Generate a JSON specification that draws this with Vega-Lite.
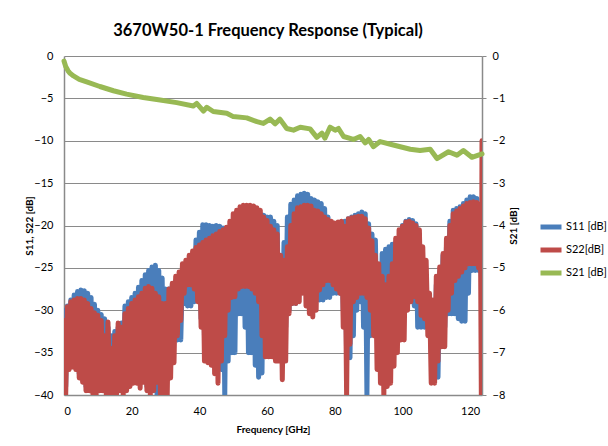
{
  "$schema": "https://vega.github.io/schema/vega-lite/v6.json",
  "width": 418,
  "height": 339,
  "autosize": {"type": "none"},
  "padding": {"left": 64, "top": 56, "right": 126, "bottom": 51},
  "background": "white",
  "config": {
    "font": "Lato",
    "view": {"stroke": null},
    "axis": {"labelFont": "Lato", "titleFont": "Lato", "labelColor": "#000", "titleColor": "#000", "domainColor": "#8a8a8a", "gridColor": "#8a8a8a", "tickColor": "#8a8a8a"}
  },
  "title": {"text": "3670W50-1 Frequency Response (Typical)", "font": "Lato", "fontSize": 16.5, "fontWeight": "bold", "anchor": "middle", "offset": 11, "dx": -5, "color": "#000"},
  "datasets": {
    "refl": [
      {"f":0,"S11":-30,"S22":-31.2},{"f":0.5,"S11":-39,"S22":-40},{"f":1,"S11":-29.5,"S22":-29.6},{"f":1.5,"S11":-36,"S22":-37},
      {"f":2,"S11":-28.8,"S22":-29},{"f":2.5,"S11":-36,"S22":-36.7},{"f":3,"S11":-28.2,"S22":-28.8},{"f":3.5,"S11":-36.5,"S22":-37},
      {"f":4,"S11":-27.8,"S22":-28.6},{"f":4.5,"S11":-37.5,"S22":-38},{"f":5,"S11":-27.6,"S22":-28.6},{"f":5.5,"S11":-38,"S22":-38.5},
      {"f":6,"S11":-27.7,"S22":-28.8},{"f":6.5,"S11":-39,"S22":-39.5},{"f":7,"S11":-28,"S22":-29.2},{"f":7.5,"S11":-39,"S22":-39.5},
      {"f":8,"S11":-28.5,"S22":-29.8},{"f":8.5,"S11":-39,"S22":-39.8},{"f":9,"S11":-29.3,"S22":-30.3},{"f":9.5,"S11":-39.5,"S22":-40},
      {"f":10,"S11":-30,"S22":-30.6},{"f":10.5,"S11":-39,"S22":-39.5},{"f":11,"S11":-30.5,"S22":-31.2},{"f":11.5,"S11":-39,"S22":-39.5},
      {"f":12,"S11":-31,"S22":-33},{"f":12.5,"S11":-39.5,"S22":-40},{"f":13,"S11":-32,"S22":-31.4},{"f":13.5,"S11":-39,"S22":-39.8},
      {"f":14,"S11":-33,"S22":-34.5},{"f":14.5,"S11":-39.5,"S22":-40},{"f":15,"S11":-32.5,"S22":-33},{"f":15.5,"S11":-39.5,"S22":-40},
      {"f":16,"S11":-32,"S22":-31.5},{"f":16.5,"S11":-39,"S22":-39.5},{"f":17,"S11":-31.5,"S22":-32},{"f":17.5,"S11":-39.5,"S22":-40},
      {"f":18,"S11":-29.5,"S22":-30.4},{"f":18.5,"S11":-39,"S22":-39.5},{"f":19,"S11":-29,"S22":-29.8},{"f":19.5,"S11":-38.5,"S22":-39},
      {"f":20,"S11":-28.5,"S22":-29.2},{"f":20.5,"S11":-38,"S22":-38.6},{"f":21,"S11":-28,"S22":-28.8},{"f":21.5,"S11":-38,"S22":-38.6},
      {"f":22,"S11":-27.3,"S22":-28.4},{"f":22.5,"S11":-38.5,"S22":-39.2},{"f":23,"S11":-26.5,"S22":-28},{"f":23.5,"S11":-38,"S22":-38.5},
      {"f":24,"S11":-25.8,"S22":-27.4},{"f":24.5,"S11":-39,"S22":-39.5},{"f":25,"S11":-25.3,"S22":-27.2},{"f":25.5,"S11":-39.5,"S22":-40},
      {"f":26,"S11":-24.9,"S22":-27.4},{"f":26.5,"S11":-39,"S22":-39.5},{"f":27,"S11":-24.7,"S22":-28},{"f":27.5,"S11":-40,"S22":-38.5},
      {"f":28,"S11":-25.3,"S22":-28.4},{"f":28.5,"S11":-39,"S22":-40},{"f":29,"S11":-26.2,"S22":-29.2},{"f":29.5,"S11":-39,"S22":-40},
      {"f":30,"S11":-27.5,"S22":-29.2},{"f":30.5,"S11":-38,"S22":-40},{"f":31,"S11":-27.5,"S22":-27.5},{"f":31.5,"S11":-36,"S22":-38},
      {"f":32,"S11":-27,"S22":-26.8},{"f":32.5,"S11":-33.5,"S22":-36.2},{"f":33,"S11":-26.5,"S22":-26},{"f":33.5,"S11":-33.5,"S22":-33},
      {"f":34,"S11":-26.5,"S22":-25.5},{"f":34.5,"S11":-33.5,"S22":-31.2},{"f":35,"S11":-25.3,"S22":-24.5},{"f":35.5,"S11":-29.2,"S22":-28},
      {"f":36,"S11":-24.8,"S22":-24.1},{"f":36.5,"S11":-29.5,"S22":-27},{"f":37,"S11":-24.3,"S22":-23.5},{"f":37.5,"S11":-29.5,"S22":-27},
      {"f":38,"S11":-23.5,"S22":-23},{"f":38.5,"S11":-29,"S22":-27.5},{"f":39,"S11":-21.7,"S22":-22.6},{"f":39.5,"S11":-28.5,"S22":-29},
      {"f":40,"S11":-20.8,"S22":-22.3},{"f":40.5,"S11":-31,"S22":-32},{"f":41,"S11":-19.9,"S22":-22},{"f":41.5,"S11":-33,"S22":-36},
      {"f":42,"S11":-19.9,"S22":-21.7},{"f":42.5,"S11":-35,"S22":-36.2},{"f":43,"S11":-20,"S22":-21.5},{"f":43.5,"S11":-35,"S22":-36.5},
      {"f":44,"S11":-20.1,"S22":-21.2},{"f":44.5,"S11":-35,"S22":-37.5},{"f":45,"S11":-20,"S22":-21},{"f":45.5,"S11":-36,"S22":-38.6},
      {"f":46,"S11":-20.1,"S22":-20.7},{"f":46.5,"S11":-37,"S22":-36},{"f":47,"S11":-20.3,"S22":-20.5},{"f":47.5,"S11":-40,"S22":-33},
      {"f":48,"S11":-20.6,"S22":-20.2},{"f":48.5,"S11":-36,"S22":-30},{"f":49,"S11":-20.2,"S22":-19.5},{"f":49.5,"S11":-35,"S22":-28.5},
      {"f":50,"S11":-19.5,"S22":-18.6},{"f":50.5,"S11":-35,"S22":-28.4},{"f":51,"S11":-19,"S22":-18.2},{"f":51.5,"S11":-30.4,"S22":-27.5},
      {"f":52,"S11":-18.5,"S22":-17.8},{"f":52.5,"S11":-30.4,"S22":-27.2},{"f":53,"S11":-18.3,"S22":-17.6},{"f":53.5,"S11":-32,"S22":-27.2},
      {"f":54,"S11":-18.3,"S22":-17.6},{"f":54.5,"S11":-35,"S22":-27.2},{"f":55,"S11":-18.3,"S22":-17.6},{"f":55.5,"S11":-35,"S22":-27.5},
      {"f":56,"S11":-18.5,"S22":-17.7},{"f":56.5,"S11":-36.5,"S22":-28},{"f":57,"S11":-18.6,"S22":-17.9},{"f":57.5,"S11":-37.9,"S22":-29},
      {"f":58,"S11":-18.6,"S22":-18.2},{"f":58.5,"S11":-37.4,"S22":-33},{"f":59,"S11":-18.8,"S22":-19},{"f":59.5,"S11":-35,"S22":-35.5},
      {"f":60,"S11":-19,"S22":-19.4},{"f":60.5,"S11":-34,"S22":-35.5},{"f":61,"S11":-19,"S22":-20.1},{"f":61.5,"S11":-34,"S22":-35.5},
      {"f":62,"S11":-19.5,"S22":-20.5},{"f":62.5,"S11":-34,"S22":-36},{"f":63,"S11":-20,"S22":-21},{"f":63.5,"S11":-33,"S22":-36},
      {"f":64,"S11":-24.4,"S22":-23.5},{"f":64.5,"S11":-33,"S22":-38.2},{"f":65,"S11":-22,"S22":-24.1},{"f":65.5,"S11":-32,"S22":-36},
      {"f":66,"S11":-19,"S22":-22.5},{"f":66.5,"S11":-30,"S22":-30.4},{"f":67,"S11":-17.5,"S22":-20},{"f":67.5,"S11":-29.2,"S22":-29.2},
      {"f":68,"S11":-17,"S22":-18.6},{"f":68.5,"S11":-29.2,"S22":-29.2},{"f":69,"S11":-16.5,"S22":-17.9},{"f":69.5,"S11":-27,"S22":-29},
      {"f":70,"S11":-16.3,"S22":-17.8},{"f":70.5,"S11":-26.5,"S22":-28},{"f":71,"S11":-16.2,"S22":-17.6},{"f":71.5,"S11":-26.5,"S22":-29.5},
      {"f":72,"S11":-16.3,"S22":-17.6},{"f":72.5,"S11":-27,"S22":-30.4},{"f":73,"S11":-16.8,"S22":-17.7},{"f":73.5,"S11":-28,"S22":-30.8},
      {"f":74,"S11":-17,"S22":-18.2},{"f":74.5,"S11":-28.8,"S22":-30},{"f":75,"S11":-17.2,"S22":-18.3},{"f":75.5,"S11":-28.8,"S22":-27.6},
      {"f":76,"S11":-17.4,"S22":-18.6},{"f":76.5,"S11":-28.8,"S22":-27},{"f":77,"S11":-18,"S22":-19},{"f":77.5,"S11":-28.5,"S22":-26.5},
      {"f":78,"S11":-19,"S22":-19.3},{"f":78.5,"S11":-28.5,"S22":-26.5},{"f":79,"S11":-19.8,"S22":-19.5},{"f":79.5,"S11":-28,"S22":-27},
      {"f":80,"S11":-20.1,"S22":-19.7},{"f":80.5,"S11":-28,"S22":-27.5},{"f":81,"S11":-19.9,"S22":-19.6},{"f":81.5,"S11":-28,"S22":-28},
      {"f":82,"S11":-19.6,"S22":-19.5},{"f":82.5,"S11":-30,"S22":-32},{"f":83,"S11":-19.5,"S22":-20.1},{"f":83.5,"S11":-35.5,"S22":-40},
      {"f":84,"S11":-19.2,"S22":-19.2},{"f":84.5,"S11":-35.6,"S22":-34},{"f":85,"S11":-19,"S22":-19.1},{"f":85.5,"S11":-33,"S22":-29},
      {"f":86,"S11":-18.8,"S22":-19},{"f":86.5,"S11":-30,"S22":-28.5},{"f":87,"S11":-18.6,"S22":-18.9},{"f":87.5,"S11":-29,"S22":-28},
      {"f":88,"S11":-18.4,"S22":-18.9},{"f":88.5,"S11":-32,"S22":-28},{"f":89,"S11":-18.6,"S22":-19.2},{"f":89.5,"S11":-40,"S22":-28.5},
      {"f":90,"S11":-19.8,"S22":-20.3},{"f":90.5,"S11":-33,"S22":-30},{"f":91,"S11":-21,"S22":-21.8},{"f":91.5,"S11":-32.7,"S22":-33},
      {"f":92,"S11":-21.7,"S22":-23.5},{"f":92.5,"S11":-33,"S22":-37},{"f":93,"S11":-24.9,"S22":-24.5},{"f":93.5,"S11":-35,"S22":-38.6},
      {"f":94,"S11":-23.3,"S22":-26},{"f":94.5,"S11":-35,"S22":-40},{"f":95,"S11":-22.8,"S22":-27},{"f":95.5,"S11":-33.5,"S22":-39},
      {"f":96,"S11":-22.5,"S22":-26},{"f":96.5,"S11":-33.5,"S22":-38.6},{"f":97,"S11":-22.2,"S22":-24.5},{"f":97.5,"S11":-33,"S22":-36.6},
      {"f":98,"S11":-22,"S22":-21.5},{"f":98.5,"S11":-31,"S22":-35},{"f":99,"S11":-21.5,"S22":-20.5},{"f":99.5,"S11":-29,"S22":-33.5},
      {"f":100,"S11":-20,"S22":-20.1},{"f":100.5,"S11":-29,"S22":-33.5},{"f":101,"S11":-19.5,"S22":-19.6},{"f":101.5,"S11":-29,"S22":-30},
      {"f":102,"S11":-19.3,"S22":-19.5},{"f":102.5,"S11":-29,"S22":-29},{"f":103,"S11":-19.4,"S22":-19.7},{"f":103.5,"S11":-29.5,"S22":-28.4},
      {"f":104,"S11":-19.8,"S22":-20},{"f":104.5,"S11":-32,"S22":-29},{"f":105,"S11":-21,"S22":-20.5},{"f":105.5,"S11":-32,"S22":-30.6},
      {"f":106,"S11":-24,"S22":-22.5},{"f":106.5,"S11":-32,"S22":-31},{"f":107,"S11":-27,"S22":-24.1},{"f":107.5,"S11":-32,"S22":-33},
      {"f":108,"S11":-29,"S22":-28},{"f":108.5,"S11":-35,"S22":-38.6},{"f":109,"S11":-29.1,"S22":-28.8},{"f":109.5,"S11":-37.9,"S22":-38.6},
      {"f":110,"S11":-27,"S22":-26},{"f":110.5,"S11":-37.9,"S22":-36},{"f":111,"S11":-25.5,"S22":-24.9},{"f":111.5,"S11":-33,"S22":-34.3},
      {"f":112,"S11":-23.5,"S22":-23.3},{"f":112.5,"S11":-32,"S22":-34.3},{"f":113,"S11":-22.5,"S22":-21.5},{"f":113.5,"S11":-30.4,"S22":-30},
      {"f":114,"S11":-19.5,"S22":-20},{"f":114.5,"S11":-30.4,"S22":-28},{"f":115,"S11":-18.2,"S22":-18.6},{"f":115.5,"S11":-30.4,"S22":-26.5},
      {"f":116,"S11":-18,"S22":-18.3},{"f":116.5,"S11":-31,"S22":-26},{"f":117,"S11":-17.8,"S22":-18},{"f":117.5,"S11":-31.3,"S22":-25.5},
      {"f":118,"S11":-17.4,"S22":-17.7},{"f":118.5,"S11":-31.3,"S22":-25},{"f":119,"S11":-17,"S22":-17.4},{"f":119.5,"S11":-28,"S22":-24.5},
      {"f":120,"S11":-16.6,"S22":-17.3},{"f":120.5,"S11":-25.3,"S22":-24.5},{"f":121,"S11":-16.6,"S22":-17.2},{"f":121.5,"S11":-25.3,"S22":-24.5},
      {"f":122,"S11":-16.8,"S22":-17.3},{"f":122.5,"S11":-25.3,"S22":-25},{"f":123,"S11":-17.5,"S22":-17.5},{"f":123.3,"S11":-26,"S22":-40},
      {"f":123.5,"S11":-20,"S22":-10}
    ],
    "trans": [
      {"f":0,"S21":-0.12},{"f":0.5,"S21":-0.25},{"f":1.2,"S21":-0.35},{"f":1.8,"S21":-0.41},{"f":2.8,"S21":-0.47},
      {"f":4.5,"S21":-0.55},{"f":6.7,"S21":-0.61},{"f":10.6,"S21":-0.72},{"f":14.6,"S21":-0.82},{"f":18.5,"S21":-0.9},
      {"f":23.4,"S21":-0.98},{"f":28.4,"S21":-1.04},{"f":33.3,"S21":-1.1},{"f":38.2,"S21":-1.18},{"f":39.2,"S21":-1.12},
      {"f":41.2,"S21":-1.3},{"f":42.2,"S21":-1.21},{"f":44.1,"S21":-1.31},{"f":48.1,"S21":-1.35},{"f":50,"S21":-1.43},
      {"f":54,"S21":-1.46},{"f":57,"S21":-1.55},{"f":58.9,"S21":-1.59},{"f":60.9,"S21":-1.49},{"f":62.4,"S21":-1.6},
      {"f":63.8,"S21":-1.49},{"f":65.8,"S21":-1.71},{"f":67.8,"S21":-1.75},{"f":69.8,"S21":-1.68},{"f":72.7,"S21":-1.72},
      {"f":74.7,"S21":-1.92},{"f":76.2,"S21":-1.82},{"f":77.1,"S21":-1.94},{"f":78.6,"S21":-1.68},{"f":80.1,"S21":-1.75},
      {"f":81.1,"S21":-1.71},{"f":82.6,"S21":-1.9},{"f":85.5,"S21":-1.97},{"f":87.5,"S21":-1.9},{"f":89,"S21":-2.05},
      {"f":90,"S21":-1.97},{"f":91.4,"S21":-2.14},{"f":93.4,"S21":-2.02},{"f":97.3,"S21":-2.1},{"f":102.3,"S21":-2.2},
      {"f":105.2,"S21":-2.23},{"f":108.2,"S21":-2.2},{"f":110.2,"S21":-2.42},{"f":113.6,"S21":-2.26},{"f":116.1,"S21":-2.34},
      {"f":118,"S21":-2.23},{"f":120.5,"S21":-2.39},{"f":123.5,"S21":-2.31}
    ]
  },
  "layer": [
    {
      "data": {"name": "refl"},
      "transform": [{"fold": ["S11", "S22"], "as": ["k", "v"]}],
      "mark": {"type": "line", "strokeWidth": 5, "strokeJoin": "round", "strokeCap": "round", "clip": true},
      "encoding": {
        "x": {"field": "f", "type": "quantitative", "scale": {"domain": [0, 123.5], "nice": false, "zero": false},
          "axis": {"values": [0, 20, 40, 60, 80, 100, 120], "grid": false, "ticks": false, "tickSize": 0, "labelPadding": 10, "labelFontSize": 11, "domainWidth": 1.5,
            "title": "Frequency [GHz]", "titleFontSize": 10, "titleFontWeight": "bold", "titlePadding": 8}},
        "y": {"field": "v", "type": "quantitative", "scale": {"domain": [-40, 0], "nice": false, "zero": false},
          "axis": {"values": [-40, -35, -30, -25, -20, -15, -10, -5, 0], "grid": true, "gridWidth": 1.2, "ticks": false, "tickSize": 0, "labelPadding": 11, "labelFontSize": 11, "domainWidth": 1.5,
            "title": "S11, S22 [dB]", "titleFontSize": 10, "titleFontWeight": "bold", "titleX": -35, "titleY": 169.5, "titleAngle": -90, "titleBaseline": "middle", "titleAlign": "center"}},
        "color": {"field": "k", "type": "nominal",
          "scale": {"domain": ["S11", "S22", "S21"], "range": ["#4A7EBB", "#BE4B48", "#98B954"]},
          "legend": {"orient": "none", "legendX": 474, "legendY": 158, "title": null, "symbolType": "stroke", "symbolStrokeWidth": 5, "symbolSize": 441, "labelFontSize": 11, "labelFont": "Lato", "labelColor": "#000", "labelOffset": 2, "rowPadding": -1,
            "labelExpr": "datum.label == 'S11' ? 'S11 [dB]' : datum.label == 'S22' ? 'S22[dB]' : 'S21 [dB]'"}}
      }
    },
    {
      "data": {"name": "trans"},
      "transform": [{"fold": ["S21"], "as": ["k", "v2"]}],
      "mark": {"type": "line", "strokeWidth": 5, "strokeJoin": "round", "strokeCap": "round"},
      "encoding": {
        "x": {"field": "f", "type": "quantitative"},
        "y": {"field": "v2", "type": "quantitative", "scale": {"domain": [-8, 0], "nice": false, "zero": false},
          "axis": {"orient": "right", "values": [-8, -7, -6, -5, -4, -3, -2, -1, 0], "grid": false, "ticks": true, "tickSize": 4, "labelPadding": 6, "labelFontSize": 11, "domainWidth": 1.5,
            "title": "S21 [dB]", "titleFontSize": 10, "titleFontWeight": "bold", "titleX": 31, "titleY": 169.5, "titleAngle": -90, "titleBaseline": "middle", "titleAlign": "center"}},
        "color": {"field": "k", "type": "nominal"}
      }
    }
  ],
  "resolve": {"scale": {"y": "independent"}}
}
